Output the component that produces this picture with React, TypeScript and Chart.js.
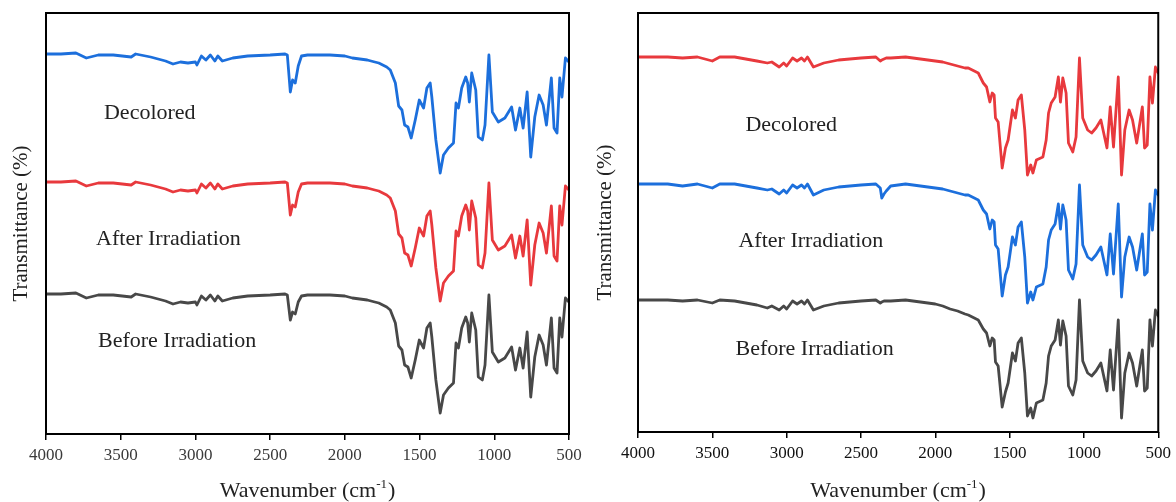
import React, { useEffect, useRef } from "react";
import { Chart, registerables } from "chart.js";

Chart.register(...registerables);

// ---------- Left panel (wavenumber, cm-1) ----------
const WN_LEFT = [
  4000, 3900, 3800, 3730, 3650, 3550, 3430, 3400, 3300, 3200, 3150, 3100, 3050, 3000, 2990, 2960,
  2930, 2900, 2870, 2850, 2820, 2750, 2650, 2500, 2400, 2385, 2365, 2350, 2332, 2312, 2290, 2250,
  2200, 2100, 2000, 1950, 1900, 1850, 1800, 1773, 1720, 1696, 1662, 1640, 1618, 1600, 1578, 1556,
  1529, 1502, 1473, 1451, 1429, 1418, 1391, 1362, 1340, 1307, 1273, 1256, 1240, 1218, 1191, 1178,
  1167, 1151, 1124, 1107, 1080, 1062, 1036, 1013, 973, 929, 884, 858, 829, 807, 780, 756, 729, 700,
  673, 651, 618, 600, 580, 562, 547, 524, 500,
];
// Decolored (blue)
const LEFT_DECOLORED = [
  380, 380, 381, 376, 379, 379, 377, 380, 377, 373, 370, 372, 371, 372, 369, 378,
  374, 379, 373, 378, 373, 376, 378, 379, 380, 379, 342, 354, 351, 368, 378, 379,
  379, 379, 378, 376, 375, 374, 372, 371, 367, 364, 351, 328, 324, 309, 307, 296,
  314, 334, 326, 346, 351, 337, 294, 261, 279, 286, 291, 331, 326, 346, 357, 351,
  332, 361, 344, 297, 294, 309, 379, 322, 312, 316, 327, 304, 326, 306, 342, 277, 317, 339,
  329, 309, 356, 306, 301, 356, 337, 376, 372,
];
// After Irradiation (red)
const LEFT_AFTER = [
  252, 252, 253, 248, 251, 251, 249, 252, 249, 245, 242, 244, 243, 244, 241, 250,
  246, 251, 245, 250, 245, 248, 250, 251, 252, 251, 219, 229, 227, 242, 250, 251,
  251, 251, 250, 248, 247, 246, 244, 243, 239, 236, 223, 200, 196, 181, 179, 168,
  186, 206, 198, 218, 223, 209, 166, 133, 151, 158, 163, 203, 198, 218, 229, 223,
  204, 233, 216, 169, 166, 181, 251, 194, 184, 188, 199, 176, 198, 178, 214, 149, 189, 211,
  201, 181, 228, 178, 173, 228, 209, 248, 244,
];
// Before Irradiation (dark grey)
const LEFT_BEFORE = [
  140, 140, 141, 136, 139, 139, 137, 140, 137, 133, 130, 132, 131, 132, 129, 138,
  134, 139, 133, 138, 133, 136, 138, 139, 140, 139, 114, 122, 120, 132, 138, 139,
  139, 139, 138, 136, 135, 134, 132, 131, 127, 124, 111, 88, 84, 69, 67, 56,
  74, 94, 86, 106, 111, 97, 54, 21, 39, 46, 51, 91, 86, 106, 117, 111,
  92, 121, 104, 57, 54, 69, 139, 82, 72, 76, 87, 64, 86, 66, 102, 37, 77, 99,
  89, 69, 116, 66, 61, 116, 97, 136, 132,
];

// ---------- Right panel ----------
const WN_RIGHT = [
  4000, 3900, 3800, 3700, 3600, 3500, 3450, 3350, 3200, 3130, 3100, 3050, 3020, 3000, 2960, 2930,
  2900, 2880, 2860, 2820, 2750, 2650, 2500, 2400, 2370, 2360, 2345, 2330, 2300, 2200, 2100, 2000,
  1950, 1900, 1850, 1800, 1778, 1711, 1677, 1655, 1633, 1617, 1604, 1595, 1577, 1550, 1528, 1510,
  1481, 1461, 1443, 1421, 1398, 1380, 1358, 1343, 1320, 1276, 1254, 1238, 1220, 1194, 1172, 1158,
  1142, 1120, 1104, 1075, 1053, 1030, 1008, 975, 948, 919, 886, 845, 823, 801, 769, 747, 725, 696,
  673, 645, 607, 592, 574, 556, 539, 519, 500,
];
// Decolored (red)
const RIGHT_DECOLORED = [
  375, 375, 375, 374, 375, 371, 375, 375, 371, 369, 370, 365, 369, 366, 374, 371,
  374, 371, 375, 365, 369, 372, 374, 375, 371, 372, 373, 374, 374, 375, 373, 371,
  370, 368, 366, 364, 364, 359, 349, 345, 330, 339, 337, 314, 310, 264, 284, 292,
  322, 314, 332, 337, 302, 257, 267, 259, 272, 275, 292, 319, 329, 335, 355, 330,
  354, 339, 289, 280, 295, 374, 314, 302, 299, 304, 312, 284, 325, 285, 355, 257, 302, 322,
  312, 289, 325, 284, 287, 355, 329, 365, 359,
];
// After Irradiation (blue)
const RIGHT_AFTER = [
  248, 248, 248, 246, 248, 244, 248, 248, 244, 242, 243, 238, 242, 239, 247, 244,
  247, 244, 248, 237, 242, 245, 247, 248, 244, 234, 238, 241, 246, 248, 246, 244,
  243, 241, 239, 237, 237, 232, 222, 218, 203, 212, 210, 187, 183, 136, 157, 165,
  195, 187, 205, 210, 175, 129, 140, 132, 145, 148, 165, 192, 202, 208, 228, 203,
  227, 212, 162, 153, 168, 247, 187, 175, 172, 177, 185, 157, 198, 158, 228, 135, 175, 195,
  185, 162, 198, 157, 160, 228, 202, 242, 237,
];
// Before Irradiation (dark grey)
const RIGHT_BEFORE = [
  132, 132, 132, 131, 132, 129, 132, 131, 127, 124, 126, 122, 126, 123, 131, 128,
  131, 128, 132, 122, 126, 129, 131, 132, 129, 130, 131, 131, 131, 132, 130, 128,
  126, 123, 121, 118, 117, 112, 103, 99, 86, 94, 92, 70, 66, 25, 40, 49,
  79, 71, 89, 94, 59, 16, 24, 14, 29, 32, 49, 76, 86, 92, 112, 87,
  111, 96, 46, 37, 52, 132, 71, 59, 56, 61, 69, 41, 82, 42, 112, 14, 59, 79,
  69, 46, 82, 41, 44, 112, 86, 122, 116,
];

const X_TICKS = [4000, 3500, 3000, 2500, 2000, 1500, 1000, 500];
const LABEL_DECOLORED = "Decolored";
const LABEL_AFTER = "After Irradiation";
const LABEL_BEFORE = "Before Irradiation";
const Y_TITLE = "Transmittance (%)";
const X_TITLE = "Wavenumber (cm";
const X_TITLE_SUP = "-1";

const BLUE = "#1c6fdc";
const RED = "#e8393d";
const GREY = "#484848";
const SERIF = "'Liberation Serif', 'Times New Roman', serif";

type Series = { name: string; wn: number[]; values: number[]; color: string };
type Note = { text: string; x: number; y: number };

type PanelProps = {
  width: number;
  height: number;
  padLeft: number;
  padRight: number;
  padTop: number;
  axisH: number;
  yMax: number;
  yTitleX: number;
  tickColor: string;
  series: Series[];
  notes: Note[];
};

function Panel(p: PanelProps) {
  const ref = useRef<HTMLCanvasElement | null>(null);

  useEffect(() => {
    if (!ref.current) return;
    const decor = {
      id: "decor",
      afterDraw(chart: any) {
        const { ctx, chartArea: a, scales } = chart;
        ctx.save();
        ctx.strokeStyle = "#000";
        ctx.lineWidth = 2;
        ctx.strokeRect(a.left, a.top, a.right - a.left, a.bottom - a.top);

        // annotations
        ctx.fillStyle = "#222";
        ctx.font = `22px ${SERIF}`;
        ctx.textAlign = "left";
        ctx.textBaseline = "middle";
        for (const n of p.notes) {
          ctx.fillText(n.text, scales.x.getPixelForValue(n.x), scales.y.getPixelForValue(n.y));
        }

        // y title
        ctx.save();
        ctx.translate(p.yTitleX, (a.top + a.bottom) / 2);
        ctx.rotate(-Math.PI / 2);
        ctx.textAlign = "center";
        ctx.textBaseline = "middle";
        ctx.font = `21px ${SERIF}`;
        ctx.fillStyle = "#222";
        ctx.fillText(Y_TITLE, 0, 0);
        ctx.restore();

        // x title with superscript
        const big = `22px ${SERIF}`;
        const small = `13px ${SERIF}`;
        ctx.font = big;
        const w1 = ctx.measureText(X_TITLE).width;
        const w3 = ctx.measureText(")").width;
        ctx.font = small;
        const w2 = ctx.measureText(X_TITLE_SUP).width;
        const total = w1 + w2 + w3 + 1;
        let x0 = (a.left + a.right) / 2 - total / 2;
        const yb = 497;
        ctx.textAlign = "left";
        ctx.textBaseline = "alphabetic";
        ctx.fillStyle = "#222";
        ctx.font = big;
        ctx.fillText(X_TITLE, x0, yb);
        x0 += w1;
        ctx.font = small;
        ctx.fillText(X_TITLE_SUP, x0, yb - 9);
        x0 += w2 + 1;
        ctx.font = big;
        ctx.fillText(")", x0, yb);
        ctx.restore();
      },
    };

    const chart = new Chart(ref.current, {
      type: "line",
      data: {
        datasets: p.series.map((s) => ({
          label: s.name,
          data: s.wn.map((w, i) => ({ x: w, y: s.values[i] })),
          borderColor: s.color,
          backgroundColor: s.color,
          borderWidth: 2.8,
          pointRadius: 0,
          tension: 0,
          borderJoinStyle: "round" as const,
          borderCapStyle: "round" as const,
          fill: false,
        })),
      },
      options: {
        responsive: false,
        animation: false,
        devicePixelRatio: 1,
        layout: { padding: { left: p.padLeft, right: p.padRight, top: p.padTop, bottom: 0 } },
        plugins: { legend: { display: false }, tooltip: { enabled: false }, title: { display: false } },
        scales: {
          x: {
            type: "linear",
            reverse: true,
            min: 500,
            max: 4000,
            afterBuildTicks: (scale: any) => {
              scale.ticks = X_TICKS.map((v) => ({ value: v }));
            },
            afterFit: (scale: any) => {
              scale.height = p.axisH;
            },
            ticks: {
              color: p.tickColor,
              font: { family: SERIF, size: 17 },
              padding: 5,
              maxRotation: 0,
              autoSkip: false,
              callback: (v: any) => String(v),
            },
            grid: {
              display: true,
              drawOnChartArea: false,
              drawTicks: true,
              tickLength: 6,
              color: "#000",
              lineWidth: 1.5,
            },
            border: { display: false },
          },
          y: {
            display: false,
            min: 0,
            max: p.yMax,
          },
        },
      },
      plugins: [decor],
    });
    return () => chart.destroy();
  }, []);

  return <canvas ref={ref} width={p.width} height={p.height} style={{ display: "block" }} />;
}

export default function App() {
  return (
    <div
      style={{
        position: "absolute",
        left: 0,
        top: 0,
        width: 1176,
        height: 502,
        background: "#fff",
        display: "flex",
      }}
    >
      <Panel
        width={590}
        height={502}
        padLeft={46}
        padRight={21}
        padTop={13}
        axisH={68}
        yMax={421}
        yTitleX={21}
        tickColor="#3a3a3a"
        series={[
          { name: LABEL_DECOLORED, wn: WN_LEFT, values: LEFT_DECOLORED, color: BLUE },
          { name: LABEL_AFTER, wn: WN_LEFT, values: LEFT_AFTER, color: RED },
          { name: LABEL_BEFORE, wn: WN_LEFT, values: LEFT_BEFORE, color: GREY },
        ]}
        notes={[
          { text: LABEL_DECOLORED, x: 3612, y: 321 },
          { text: LABEL_AFTER, x: 3665, y: 195 },
          { text: LABEL_BEFORE, x: 3652, y: 93 },
        ]}
      />
      <Panel
        width={586}
        height={502}
        padLeft={48}
        padRight={15}
        padTop={13}
        axisH={70}
        yMax={419}
        yTitleX={15}
        tickColor="#111"
        series={[
          { name: LABEL_DECOLORED, wn: WN_RIGHT, values: RIGHT_DECOLORED, color: RED },
          { name: LABEL_AFTER, wn: WN_RIGHT, values: RIGHT_AFTER, color: BLUE },
          { name: LABEL_BEFORE, wn: WN_RIGHT, values: RIGHT_BEFORE, color: GREY },
        ]}
        notes={[
          { text: LABEL_DECOLORED, x: 3277, y: 307 },
          { text: LABEL_AFTER, x: 3324, y: 191 },
          { text: LABEL_BEFORE, x: 3344, y: 83 },
        ]}
      />
    </div>
  );
}
